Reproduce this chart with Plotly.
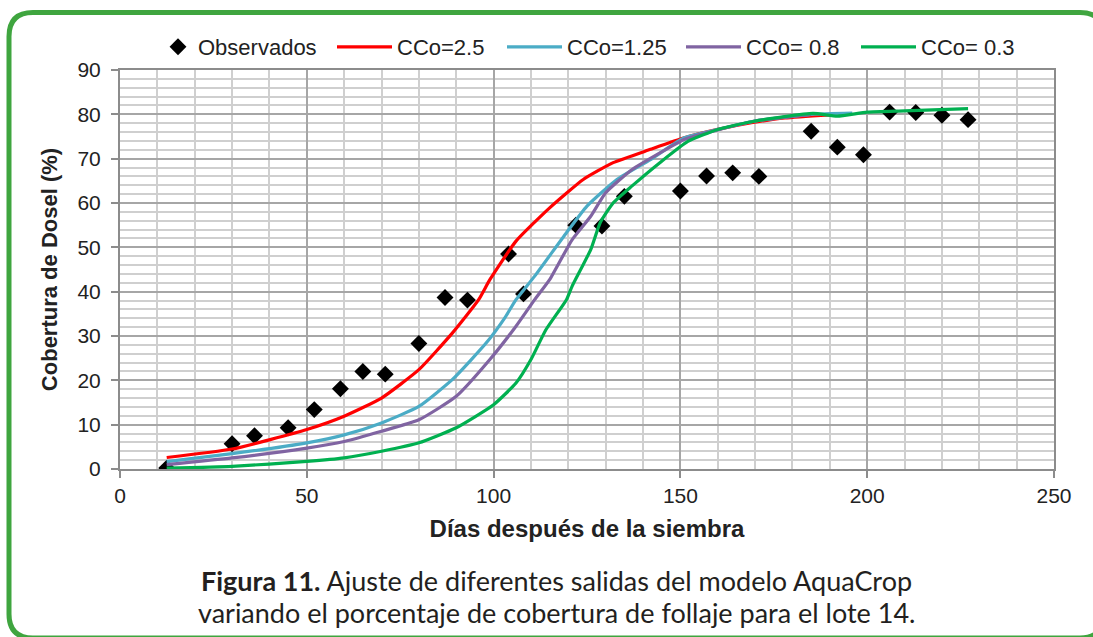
import plotly.graph_objects as go

# Observed canopy cover (%) by days after sowing
obs_days = [12.5, 30, 36, 45, 52, 59, 65, 71, 80, 87, 93, 104, 108, 122, 129, 135,
            150, 157, 164, 171, 185, 192, 199, 206, 213, 220, 227]
obs_cover = [0.2, 5.7, 7.5, 9.3, 13.4, 18.1, 22.0, 21.4, 28.3, 38.7, 38.1, 48.5, 39.5,
             55.0, 54.8, 61.5, 62.7, 66.1, 66.8, 66.0, 76.2, 72.6, 70.9, 80.5, 80.4,
             79.8, 78.8]

# AquaCrop simulated canopy cover for each CCo value
cc25_days = [12.5, 30, 50, 60, 70, 80, 89, 96, 99, 106, 115, 124, 132, 142, 151, 160,
             169, 178, 190]
cc25_cover = [2.6, 4.5, 8.9, 11.9, 16.0, 22.4, 30.7, 38.2, 42.7, 51.4, 58.9, 65.3,
              69.1, 72.1, 74.7, 76.6, 78.1, 79.2, 79.9]

cc125_days = [12.5, 30, 50, 60, 70, 80, 89, 98, 103, 106, 111, 119.5, 125, 133, 142,
              151, 160, 170, 185, 196]
cc125_cover = [1.65, 3.45, 5.9, 7.7, 10.4, 14.1, 20.2, 28.4, 34.1, 38.2, 43.5, 53.3,
               59.3, 65.3, 69.8, 74.7, 76.6, 78.5, 80.0, 80.3]

cc08_days = [12.5, 30, 50, 60, 70, 80, 90, 99, 106, 111, 115, 121, 126, 130, 137, 146,
             151, 160, 170, 185]
cc08_cover = [1.0, 2.5, 4.7, 6.2, 8.5, 11.1, 16.4, 24.7, 32.2, 38.2, 42.7, 51.7, 57.0,
              62.3, 67.5, 72.0, 74.3, 76.5, 78.5, 80.0]

cc03_days = [12.5, 30, 50, 60, 70, 80, 90, 100, 106, 110, 114, 119.5, 121, 126, 128.5,
             132, 137, 144.5, 152, 160, 170, 185.5, 192, 200, 210, 227]
cc03_cover = [0.2, 0.6, 1.7, 2.5, 4.0, 5.9, 9.3, 14.5, 19.4, 24.7, 31.4, 38.2, 41.2,
              49.5, 55.5, 60.0, 63.8, 69.1, 73.9, 76.6, 78.5, 80.2, 79.6, 80.5, 80.8,
              81.3]

series = [
    ("CCo=2.5", cc25_days, cc25_cover, "#ff0000", "legend2"),
    ("CCo=1.25", cc125_days, cc125_cover, "#4bacc6", "legend3"),
    ("CCo= 0.8", cc08_days, cc08_cover, "#8064a2", "legend4"),
    ("CCo= 0.3", cc03_days, cc03_cover, "#00b050", "legend5"),
]

FONT = "Liberation Sans, Arial, sans-serif"
TXT = "#222222"

fig = go.Figure()
fig.add_trace(go.Scatter(
    x=obs_days, y=obs_cover, mode="markers", name="Observados",
    marker=dict(symbol="diamond", size=13, color="#000000"),
    legend="legend", showlegend=True,
))
for name, d, c, col, lg in series:
    fig.add_trace(go.Scatter(
        x=d, y=c, mode="lines", name=name,
        line=dict(color=col, width=3.2, shape="spline", smoothing=0.5),
        legend=lg, showlegend=True,
    ))

# plot area geometry in pixels (used for paper-coordinate decorations)
W, H = 1093, 637
L, R, T, B = 120, 1054, 70, 469


def px(x):
    return (x - L) / (R - L)


def py(y):
    return (B - y) / (B - T)


leg_common = dict(orientation="h", yanchor="middle", xanchor="left", y=py(47),
                  bgcolor="rgba(0,0,0,0)", font=dict(family=FONT, size=22, color=TXT),
                  borderwidth=0, itemclick=False, itemdoubleclick=False)
legend_x = [158, 332, 502, 681, 856]

layout_legends = {}
for i, lx in enumerate(legend_x):
    key = "legend" if i == 0 else f"legend{i + 1}"
    layout_legends[key] = dict(leg_common, x=px(lx), itemwidth=30 if i == 0 else 55)

# rounded green frame around the figure
fl, ft, fr, fb, rad = 9, 12.5, 1104, 638, 24
path = (
    f"M {px(fl)},{py(ft + rad)} Q {px(fl)},{py(ft)} {px(fl + rad)},{py(ft)} "
    f"L {px(fr - rad)},{py(ft)} Q {px(fr)},{py(ft)} {px(fr)},{py(ft + rad)} "
    f"L {px(fr)},{py(fb - rad)} Q {px(fr)},{py(fb)} {px(fr - rad)},{py(fb)} "
    f"L {px(fl + rad)},{py(fb)} Q {px(fl)},{py(fb)} {px(fl)},{py(fb - rad)} Z"
)

CAP_FONT = dict(family="Lato, sans-serif", size=27, color="#231f20")

fig.update_layout(
    width=W, height=H,
    margin=dict(l=L, r=W - R, t=T, b=H - B),
    paper_bgcolor="white", plot_bgcolor="white",
    showlegend=True,
    font=dict(family=FONT, size=21, color=TXT),
    shapes=[dict(type="path", path=path, xref="paper", yref="paper",
                 line=dict(color="#3fa53f", width=5), layer="below")],
    annotations=[
        dict(text="<b>Figura 11.</b> Ajuste de diferentes salidas del modelo AquaCrop",
             x=px(556), y=py(580), xref="paper", yref="paper", showarrow=False,
             xanchor="center", yanchor="middle", font=CAP_FONT),
        dict(text="variando el porcentaje de cobertura de follaje para el lote 14.",
             x=px(556), y=py(612), xref="paper", yref="paper", showarrow=False,
             xanchor="center", yanchor="middle", font=CAP_FONT),
    ],
    **layout_legends,
)

fig.update_xaxes(
    range=[0, 250], dtick=50, tick0=0,
    showline=True, linecolor="#8c8c8c", linewidth=2, mirror=True,
    ticks="outside", ticklen=7, tickcolor="#8c8c8c", tickwidth=1.5,
    showgrid=True, gridcolor="#a6a6a6", gridwidth=1.5, zeroline=False,
    minor=dict(dtick=10, showgrid=True, gridcolor="#cfcfcf", gridwidth=1.5),
    tickfont=dict(size=21, color=TXT),
    title=dict(text="<b>Días después de la siembra</b>", standoff=14,
               font=dict(size=24, color=TXT)),
)
fig.update_yaxes(
    range=[0, 90], dtick=10, tick0=0,
    showline=True, linecolor="#8c8c8c", linewidth=2, mirror=True,
    ticks="outside", ticklen=7, tickcolor="#8c8c8c", tickwidth=1.5,
    showgrid=True, gridcolor="#a6a6a6", gridwidth=1.5, zeroline=False,
    minor=dict(dtick=2, showgrid=True, gridcolor="#cfcfcf", gridwidth=1.5),
    tickfont=dict(size=21, color=TXT), ticklabelstandoff=6,
    title=dict(text="<b>Cobertura de Dosel (%)</b>", standoff=14,
               font=dict(size=22, color=TXT)),
)

fig.write_html("out.html")
